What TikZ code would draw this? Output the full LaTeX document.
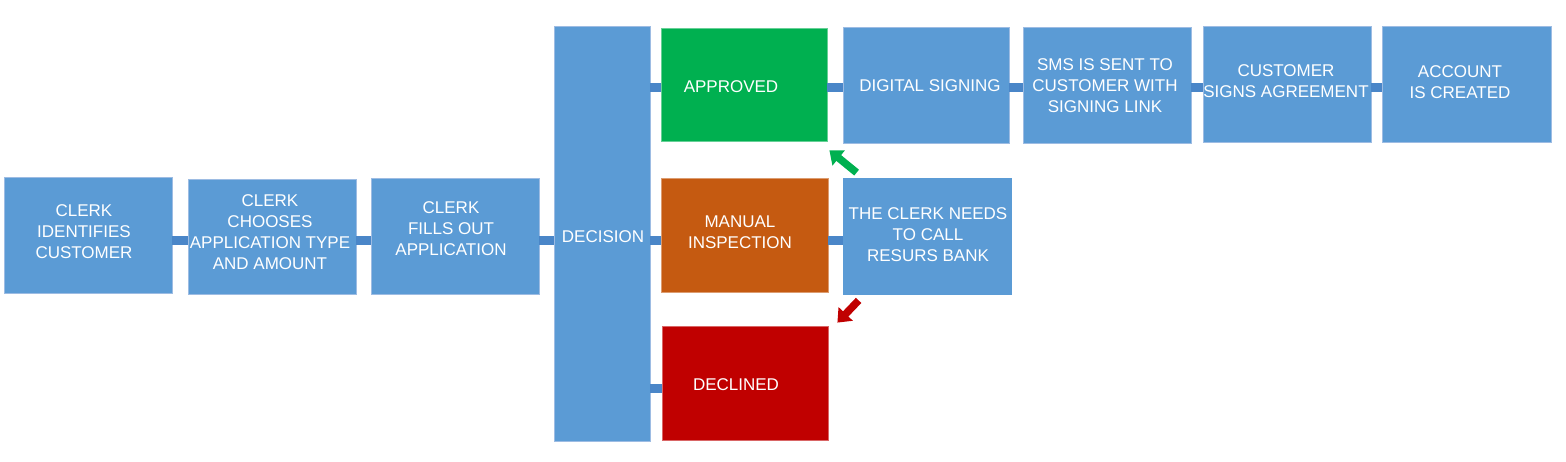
\documentclass[tikz,border=0pt]{standalone}
\usepackage{fontspec}
\setmainfont{Liberation Sans}
\usetikzlibrary{arrows.meta}
\definecolor{boxblue}{HTML}{5B9BD5}
\definecolor{boxedge}{HTML}{9DBCE3}
\definecolor{barblue}{HTML}{4A86C8}
\definecolor{okgreen}{HTML}{00B050}
\definecolor{manorange}{HTML}{C55A11}
\definecolor{decred}{HTML}{C00000}
\tikzset{
  box/.style={rectangle, draw=boxedge, line width=0.8pt, fill=boxblue, inner sep=0pt,
    text=white, align=center, font=\fontsize{17}{21}\selectfont},
  txt/.style={text=white, align=center, font=\fontsize{17}{21}\selectfont, inner sep=0pt},
  bar/.style={draw=barblue, line width=9pt},
  blockarrow/.style={line width=7.5pt, -{Triangle[width=19pt,length=12pt]}},
}
\begin{document}
\begin{tikzpicture}[x=1pt,y=-1pt]
\useasboundingbox (0,0) rectangle (1566,461);
\coordinate (ya) at (0,240);
\coordinate (yb) at (0,87);
\coordinate (yc) at (0,388);
% boxes
\node[box, minimum width=168pt, minimum height=116pt] (b1) at (88,235) {};
\node[box, minimum width=168pt, minimum height=115pt] (b2) at (272,236.5) {};
\node[box, minimum width=168pt, minimum height=116pt] (b3) at (455,236) {};
\node[box, minimum width=96pt, minimum height=415pt] (dec) at (602,233.5) {};
\node[box, fill=okgreen, draw=okgreen!60, minimum width=166pt, minimum height=113pt] (app) at (744,84.5) {};
\node[box, fill=manorange, draw=manorange!60, minimum width=167pt, minimum height=114pt] (man) at (744.5,235) {};
\node[box, fill=decred, draw=decred!60, minimum width=166pt, minimum height=114pt] (decl) at (745,383) {};
\node[box, minimum width=166pt, minimum height=116pt] (dig) at (926,85) {};
\node[box, minimum width=168pt, minimum height=116pt] (sms) at (1107,85) {};
\node[box, minimum width=168pt, minimum height=116pt] (cust) at (1287,84) {};
\node[box, minimum width=169pt, minimum height=116pt] (acc) at (1466.5,84) {};
\node[box, draw=none, minimum width=169pt, minimum height=117pt] (cn) at (927.5,236.5) {};
% bars
\draw[bar] (b1.east |- ya) -- (b2.west |- ya);
\draw[bar] (b2.east |- ya) -- (b3.west |- ya);
\draw[bar] (b3.east |- ya) -- (dec.west |- ya);
\draw[bar] (dec.east |- yb) -- (app.west |- yb);
\draw[bar] (dec.east |- ya) -- (man.west |- ya);
\draw[bar] (dec.east |- yc) -- (decl.west |- yc);
\draw[bar] (app.east |- yb) -- (dig.west |- yb);
\draw[bar] (dig.east |- yb) -- (sms.west |- yb);
\draw[bar] (sms.east |- yb) -- (cust.west |- yb);
\draw[bar] (cust.east |- yb) -- (acc.west |- yb);
\draw[bar] (man.east |- ya) -- (cn.west |- ya);
% texts
\node[txt] (t1) at (84,232) {CLERK\\IDENTIFIES\\CUSTOMER};
\node[txt] (t2) at (270,232.5) {CLERK\\CHOOSES\\APPLICATION TYPE\\AND AMOUNT};
\node[txt] (t3) at (451,229) {CLERK\\FILLS OUT\\APPLICATION};
\node[txt] (tdec) at (603,237) {DECISION};
\node[txt] (tapp) at (731,87) {APPROVED};
\node[txt] (tman) at (740,232.5) {MANUAL\\INSPECTION};
\node[txt] (tdecl) at (736,385) {DECLINED};
\node[txt] (tdig) at (930,86) {DIGITAL SIGNING};
\node[txt] (tsms) at (1105,86) {SMS IS SENT TO\\CUSTOMER WITH\\SIGNING LINK};
\node[txt] (tcust) at (1286,81.5) {CUSTOMER\\SIGNS AGREEMENT};
\node[txt] (tacc) at (1460,82.5) {ACCOUNT\\IS CREATED};
\node[txt] (tcn) at (928,235) {THE CLERK NEEDS\\TO CALL\\RESURS BANK};
% arrows
\draw[blockarrow, draw=okgreen, fill=okgreen] ([shift={(14,-5)}]cn.north west) -- ([shift={(2,9)}]app.south east);
\draw[blockarrow, draw=decred, fill=decred] ([shift={(16,5)}]cn.south west) -- ([shift={(9,-3)}]decl.north east);
\end{tikzpicture}
\end{document}
